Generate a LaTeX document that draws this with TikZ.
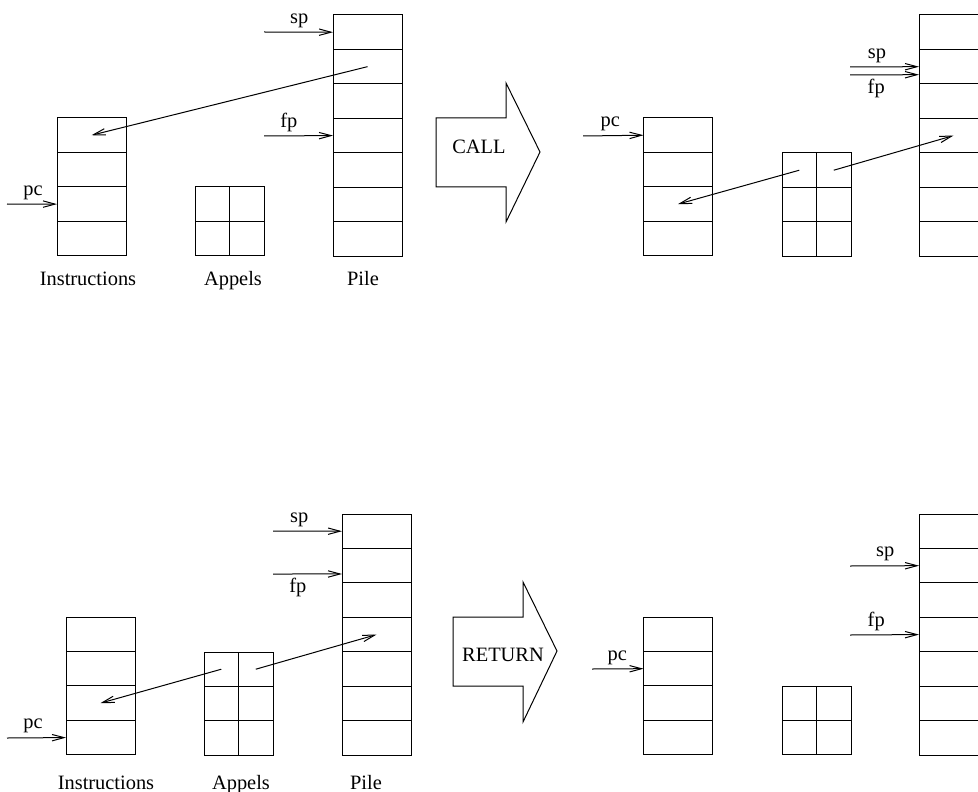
\documentclass[tikz,border=0pt]{standalone}
\usepackage{fontspec}
\setmainfont{Liberation Serif}
\usetikzlibrary{arrows.meta}
\tikzset{
  cell/.style={draw,line width=0.5pt,minimum width=34.5pt,minimum height=17.225pt,inner sep=0pt,outer sep=0pt},
  half/.style={cell,minimum width=17.25pt},
  ptr/.style={-{Straight Barb[length=6pt,width=3.2pt]},line width=0.5pt},
  tag/.style={inner sep=2pt},
  lab/.style={anchor=base},
  bigarrow/.style={draw,line width=0.5pt},
}
\begin{document}
\begin{tikzpicture}[x=0.5pt,y=-0.5pt,font=\fontsize{10.2}{12}\selectfont]
\useasboundingbox (0,0) rectangle (978,791);
\clip (0,0) rectangle (978,791);
% before CALL
\foreach \k in {1,...,4} \node[cell] (insA\k) at (91.5,{118+34.45*(\k-0.5)}) {};
\foreach \r in {1,2} \foreach \c in {1,2}
  \node[half] (appA\r\c) at ({195+34.5*(\c-0.5)},{187+34.45*(\r-0.5)}) {};
\foreach \k in {1,...,7} \node[cell] (pilA\k) at (367.5,{15+34.45*(\k-0.5)}) {};
\coordinate (spA) at (264,32);
\coordinate (fpA) at (264,136);
\coordinate (pcA) at (7,204);
\draw[ptr] (spA) -- (pilA1.west) node[tag,pos=0.51,above] {sp};
\draw[ptr] (fpA) -- (pilA4.west) node[tag,pos=0.36,above] {fp};
\draw[ptr] (pcA) -- (insA3.west) node[tag,pos=0.52,above] {pc};
\draw[ptr] (pilA2.center) -- (insA1.center);
\node[lab] (labInsA) at (88,285) {Instructions};
\node[lab] (labAppA) at (233,285) {Appels};
\node[lab] (labPilA) at (363,285) {Pile};
% CALL
\draw[bigarrow] (436,118) -- (506,118) -- (506,83) -- (540,152) -- (506,222)
  -- (506,187) -- (436,187) -- cycle;
\node (call) at (479,147) {CALL};
% after CALL
\foreach \k in {1,...,4} \node[cell] (insB\k) at (678,{118+34.45*(\k-0.5)}) {};
\foreach \r in {1,2,3} \foreach \c in {1,2}
  \node[half] (appB\r\c) at ({782+34.5*(\c-0.5)},{153+34.45*(\r-0.5)}) {};
\foreach \k in {1,...,7} \node[cell] (pilB\k) at (953.5,{15+34.45*(\k-0.5)}) {};
\coordinate (spB) at (850,67);
\coordinate (fpB) at (850,75);
\coordinate (pcB) at (583,136);
\draw[ptr] (spB) -- (pilB2.west) node[tag,pos=0.39,above] {sp};
\draw[ptr] (fpB) -- ([yshift=-4pt]pilB2.west) node[tag,pos=0.38,below] {fp};
\draw[ptr] (pcB) -- (insB1.west) node[tag,pos=0.45,above] {pc};
\draw[ptr] (appB11.center) -- (insB3.center);
\draw[ptr] (appB12.center) -- (pilB4.center);
% before RETURN
\foreach \k in {1,...,4} \node[cell] (insC\k) at (100.5,{617+34.45*(\k-0.5)}) {};
\foreach \r in {1,2,3} \foreach \c in {1,2}
  \node[half] (appC\r\c) at ({204+34.5*(\c-0.5)},{652+34.45*(\r-0.5)}) {};
\foreach \k in {1,...,7} \node[cell] (pilC\k) at (376.5,{514+34.45*(\k-0.5)}) {};
\coordinate (spC) at (273,531);
\coordinate (fpC) at (273,574);
\coordinate (pcC) at (7,738);
\draw[ptr] (spC) -- (pilC1.west) node[tag,pos=0.38,above] {sp};
\draw[ptr] (fpC) -- ([yshift=-4.15pt]pilC2.west) node[tag,pos=0.36,below] {fp};
\draw[ptr] (pcC) -- (insC4.west) node[tag,pos=0.44,above] {pc};
\draw[ptr] (appC11.center) -- (insC3.center);
\draw[ptr] (appC12.center) -- (pilC4.center);
\node[lab] (labInsC) at (106,789) {Instructions};
\node[lab] (labAppC) at (241,789) {Appels};
\node[lab] (labPilC) at (366,789) {Pile};
% RETURN
\draw[bigarrow] (453,617) -- (523,617) -- (523,582) -- (557,651) -- (523,722)
  -- (523,686) -- (453,686) -- cycle;
\node (ret) at (503,655) {RETURN};
% after RETURN
\foreach \k in {1,...,4} \node[cell] (insD\k) at (678,{617+34.45*(\k-0.5)}) {};
\foreach \r in {1,2} \foreach \c in {1,2}
  \node[half] (appD\r\c) at ({782+34.5*(\c-0.5)},{686+34.45*(\r-0.5)}) {};
\foreach \k in {1,...,7} \node[cell] (pilD\k) at (953.5,{514+34.45*(\k-0.5)}) {};
\coordinate (spD) at (850,566);
\coordinate (fpD) at (850,635);
\coordinate (pcD) at (592,669);
\draw[ptr] (spD) -- (pilD2.west) node[tag,pos=0.51,above] {sp};
\draw[ptr] (fpD) -- (pilD4.west) node[tag,pos=0.38,above] {fp};
\draw[ptr] (pcD) -- (insD2.west) node[tag,pos=0.49,above] {pc};
\end{tikzpicture}
\end{document}
